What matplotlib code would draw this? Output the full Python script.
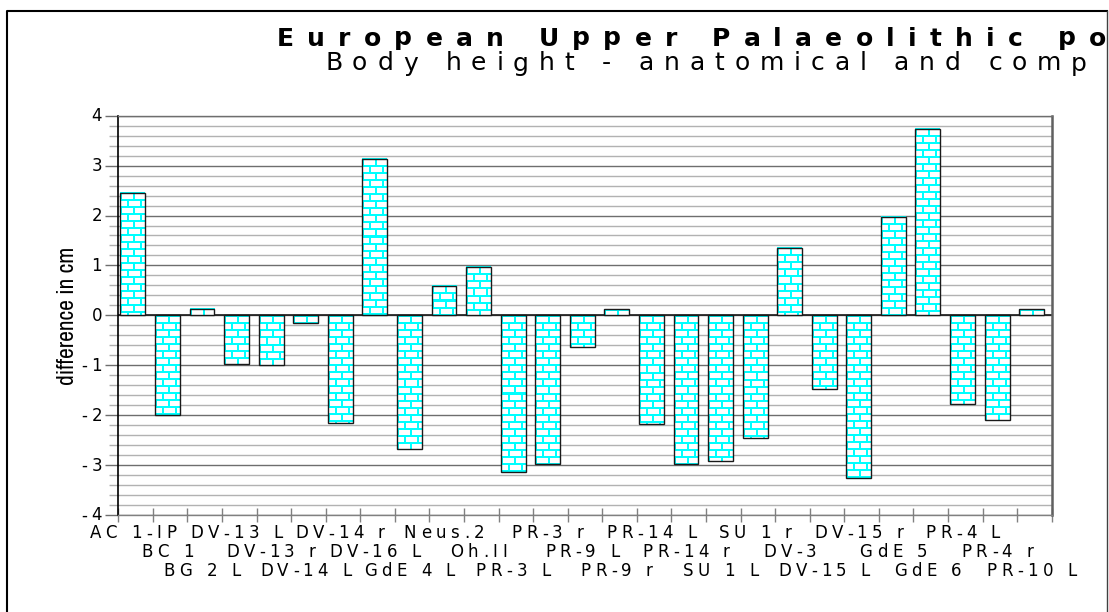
import matplotlib
matplotlib.use('Agg')
import matplotlib.pyplot as plt
import matplotlib.transforms as mtransforms
from matplotlib import font_manager
from matplotlib.font_manager import FontProperties
from matplotlib.lines import Line2D
from matplotlib.patches import Rectangle
import numpy as np

# Difference between anatomical and computed body height per skeleton (cm)
specimens = ['AC 1-IP', 'BC 1', 'BG 2 L', 'DV-13 L', 'DV-13 r', 'DV-14 L', 'DV-14 r',
             'DV-16 L', 'GdE 4 L', 'Neus.2', 'Oh.II', 'PR-3 L', 'PR-3 r', 'PR-9 L',
             'PR-9 r', 'PR-14 L', 'PR-14 r', 'SU 1 L', 'SU 1 r', 'DV-3', 'DV-15 L',
             'DV-15 r', 'GdE 5', 'GdE 6', 'PR-4 L', 'PR-4 r', 'PR-10 L']
difference_cm = [2.46, -2.00, 0.13, -0.98, -0.99, -0.16, -2.16, 3.13, -2.67, 0.59, 0.97,
                 -3.13, -2.97, -0.64, 0.12, -2.17, -2.97, -2.91, -2.45, 1.35, -1.48,
                 -3.26, 1.98, 3.74, -1.78, -2.10, 0.12]
y_ticks = [-4, -3, -2, -1, 0, 1, 2, 3, 4]

title = 'European Upper Palaeolithic population'
subtitle = 'Body height - anatomical and computed'
y_label = 'difference in cm'

FONT = ['DejaVu Sans']
W, H = 1109, 612
CLIP_X = 1107
PIX = mtransforms.IdentityTransform()

fig = plt.figure(figsize=(W / 100, H / 100), dpi=100)
ax = fig.add_axes([118.3 / W, 1 - 515 / H, 933.4 / W, 399.3 / H])

n = len(specimens)
x = np.arange(n)
bars = ax.bar(x + 0.06, difference_cm, width=0.72, align='edge', facecolor='none',
              edgecolor='#1a1a1a', linewidth=1.0, zorder=4)
ax.set_xlim(0, n)
ax.set_ylim(-4, 4)


def brick_tile(h, w):
    # white bricks with cyan mortar, rows staggered by half a brick
    rr, cc = np.mgrid[0:h, 0:w]
    shift = 6 * ((rr // 7) % 2)
    mortar = (rr % 7 < 2) | ((cc + shift) % 13 < 2)
    img = np.ones((h, w, 3))
    img[mortar] = (0.0, 1.0, 1.0)
    return img


# fill every bar with the brick texture
for b in bars:
    x0, x1 = b.get_x(), b.get_x() + b.get_width()
    y0, y1 = sorted((0, b.get_height()))
    p0 = ax.transData.transform((x0, y0))
    p1 = ax.transData.transform((x1, y1))
    w = max(int(round(p1[0] - p0[0])), 1)
    h = max(int(round(p1[1] - p0[1])), 1)
    ax.imshow(brick_tile(h, w), extent=(x0, x1, y0, y1), aspect='auto',
              interpolation='nearest', zorder=3)
ax.set_xlim(0, n)
ax.set_ylim(-4, 4)

# grid and ticks
ax.set_yticks(y_ticks)
ax.set_yticks(np.arange(-4, 4.01, 0.2), minor=True)
ax.set_xticks(np.arange(n + 1))
ax.grid(which='major', axis='y', color='#6e6e6e', linewidth=1.0)
ax.grid(which='minor', axis='y', color='#b2b2b2', linewidth=1.0)
ax.grid(which='major', axis='x', visible=False)
ax.set_axisbelow(True)
ax.axhline(0, color='#1a1a1a', linewidth=1.2, zorder=2.5)
ax.tick_params(axis='y', which='major', length=9.4, width=1, color='#6e6e6e', labelleft=False)
ax.tick_params(axis='y', which='minor', length=6.5, width=1, color='#b2b2b2')
ax.tick_params(axis='x', direction='inout', length=9.4, width=1, color='#808080',
               labelbottom=False)
ax.spines['left'].set_color('black')
ax.spines['left'].set_linewidth(1.2)
ax.spines['right'].set_color('#606060')
ax.spines['right'].set_linewidth(1.8)
ax.spines['top'].set_color('#6e6e6e')
ax.spines['bottom'].set_color('#808080')
ax.spines['top'].set_linewidth(1.0)
ax.spines['bottom'].set_linewidth(1.0)

renderer = fig.canvas.get_renderer()


def text_width(s, prop):
    return renderer.get_text_width_height_descent(s, prop, ismath=False)[0]


def spaced_text(x, y, s, size, gap=0.0, weight='normal', ha='left', fit=None):
    """Write s letter by letter from pixel point (x, y) with extra gap between letters.
    fit=(k, span) picks the gap so that the first k letters cover span pixels."""
    prop = FontProperties(family=FONT, size=size, weight=weight)
    natural = text_width(s, prop)
    if fit is not None:
        k, span = fit
        gap = (span - text_width(s[:k], prop)) / (k - 1)
    ref = text_width('|', prop)
    starts = [text_width(s[:i] + '|', prop) - ref + i * gap for i in range(len(s))]
    total = natural + gap * (len(s) - 1)
    shift = {'left': 0, 'center': total / 2, 'right': total}[ha]
    for ch, off in zip(s, starts):
        if ch == ' ':
            continue
        px = x + off - shift
        if px + text_width(ch, prop) > CLIP_X:
            break
        fig.text(px, y, ch, fontproperties=prop, ha='left', va='baseline',
                 transform=PIX, color='black', zorder=3)


# category labels, staggered on three rows
for i, name in enumerate(specimens):
    px = ax.transData.transform((i + 0.42, -4))[0]
    row = i % 3
    spaced_text(px, H - (538.5 + 18.5 * row), name, 12, gap=4.5, ha='center')

# value labels on the y axis
for v in y_ticks:
    py = ax.transData.transform((0, v))[1]
    spaced_text(102, py - 5.5, str(v), 12, gap=4, ha='right')

# narrow face for the rotated axis title when one is installed
narrow = sorted({f.name for f in font_manager.fontManager.ttflist if 'Narrow' in f.name})
if narrow:
    ylab_prop = FontProperties(family=narrow[0], size=17)
else:
    ylab_prop = FontProperties(family=['Liberation Sans'], size=15)
fig.text(74, H - 385, y_label, fontproperties=ylab_prop, rotation=90,
         rotation_mode='anchor', ha='left', va='baseline', transform=PIX)

spaced_text(277, H - 45.5, title, 18, weight='bold', fit=(30, 829))
spaced_text(325, H - 70.5, subtitle, 18, fit=(33, 762))

# page frame
fig.add_artist(Rectangle((1108, 0), 20, H, transform=PIX, facecolor='white',
                         edgecolor='none', zorder=10))
fig.add_artist(Line2D([7, 7, 1107], [0, H - 11, H - 11], transform=PIX,
                      color='black', linewidth=1.5, zorder=11))
fig.add_artist(Line2D([1107, 1107], [0, H - 11], transform=PIX,
                      color='#404040', linewidth=1.0, zorder=11))

fig.savefig('out.png', dpi=100)
